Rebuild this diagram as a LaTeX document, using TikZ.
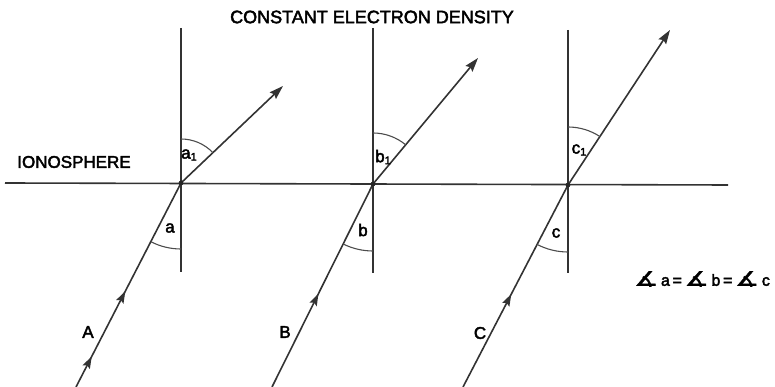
\documentclass[tikz,border=0pt]{standalone}
\usepackage{fontspec}
\setmainfont{Liberation Sans}[FakeBold=2.5]
\newfontfamily\symfont{DejaVu Sans}[FakeBold=1.5]
\usetikzlibrary{arrows.meta,decorations.markings}
\newcommand\angsym{{\symfont\scalebox{1.35}[1]{\fontsize{20}{20}\selectfont ∡}}}
\begin{document}
\begin{tikzpicture}[x=1pt,y=1pt,
  ln/.style={line width=1.6pt,draw=black!80},
  ray/.style={ln,-{Stealth[length=14pt,width=9pt,inset=2pt]}},
  midarrow/.style={postaction={decorate,decoration={markings,
     mark=at position #1 with {\arrow{Stealth[length=12pt,width=8pt,inset=2pt]}}}}},
  arcline/.style={line width=1.1pt,draw=black!70},
  lbl/.style={inner sep=0pt,font=\fontsize{17}{17}\selectfont},
  capl/.style={inner sep=0pt,font=\fontsize{17}{17}\selectfont},
  txt/.style={inner sep=0pt,font=\fontsize{17}{17}\selectfont}]
\useasboundingbox (0,0) rectangle (775,387);
% intersections
\coordinate (IA) at (181,204);
\coordinate (IB) at (373,203);
\coordinate (IC) at (568,202);
% horizontal boundary
\coordinate (HL) at (5,204);
\coordinate (HR) at (728,202);
\draw[ln] (HL) -- (HR);
% verticals
\coordinate (VAt) at (181,359); \coordinate (VAb) at (181,115);
\coordinate (VBt) at (373,359); \coordinate (VBb) at (373,114);
\coordinate (VCt) at (568,357); \coordinate (VCb) at (568,114);
\draw[ln,line width=1.3pt] (VAt) -- (VAb);
\draw[ln,line width=1.3pt] (VBt) -- (VBb);
\draw[ln,line width=1.3pt] (VCt) -- (VCb);
% incident rays
\coordinate (SA) at (76,0);
\coordinate (SB) at (272,0);
\coordinate (SC) at (463,0);
\draw[ln,midarrow=0.47,midarrow=0.15] (SA) -- (IA);
\draw[ln,midarrow=0.46] (SB) -- (IB);
\draw[ln,midarrow=0.46] (SC) -- (IC);
% refracted rays
\coordinate (EA) at (283,301);
\coordinate (EB) at (478,329);
\coordinate (EC) at (670,357);
\draw[ray] (IA) -- (EA);
\draw[ray] (IB) -- (EB);
\draw[ray] (IC) -- (EC);
% angle arcs below
\draw[arcline] (IA) ++(242.8:66) arc[start angle=242.8,end angle=270,radius=66];
\draw[arcline] (IB) ++(243.7:67) arc[start angle=243.7,end angle=270,radius=67];
\draw[arcline] (IC) ++(242.5:67) arc[start angle=242.5,end angle=270,radius=67];
% angle arcs above
\draw[arcline] (IA) ++(43.6:44) arc[start angle=43.6,end angle=90,radius=44];
\draw[arcline] (IB) ++(50.2:51) arc[start angle=50.2,end angle=90,radius=51];
\draw[arcline] (IC) ++(56.7:58) arc[start angle=56.7,end angle=90,radius=58];
% junction dots
\fill[black!85] (IA) circle (2.4); \fill[black!85] (IB) circle (2.4); \fill[black!85] (IC) circle (2.4);
% labels
\node[lbl] (la) at (170,159) {a};
\node[lbl] (lb) at (363,157) {b};
\node[lbl] (lc) at (556,154) {c};
\node[lbl] (la1) at (189,232) {a\raisebox{-2pt}{\fontsize{11}{11}\selectfont 1}};
\node[lbl] (lb1) at (383,230) {b\raisebox{-2pt}{\fontsize{11}{11}\selectfont 1}};
\node[lbl] (lc1) at (579,237) {c\raisebox{-2pt}{\fontsize{11}{11}\selectfont 1}};
\node[capl] (lA) at (88,55) {A};
\node[capl] (lB) at (285,55) {B};
\node[capl] (lC) at (480,54) {C};
\node[txt] (iono) at (74,225) {IONOSPHERE};
\node[txt,font=\fontsize{18}{18}\selectfont] (title) at (372,370) {CONSTANT ELECTRON DENSITY};
\node[lbl,font=\fontsize{16}{16}\selectfont] (eq) at (702,108) {\angsym\,a\,=\,\angsym\,b\,=\,\angsym\,c};
\end{tikzpicture}
\end{document}
